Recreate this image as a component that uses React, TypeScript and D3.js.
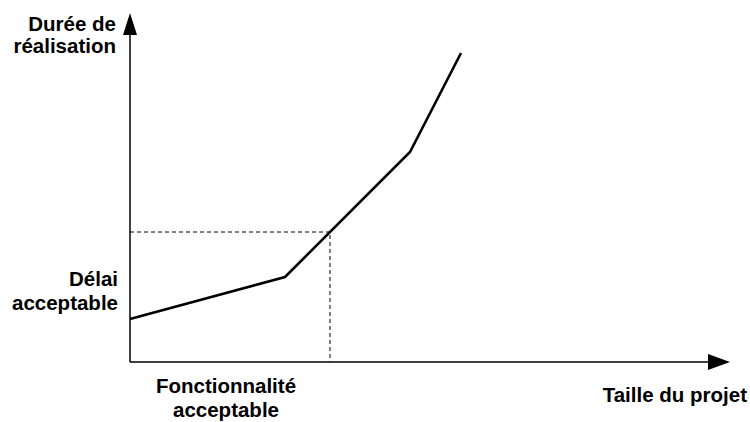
import React from "react";
import * as d3 from "d3";

const sizeValues = [0, 15.5, 28, 33.1];
const durationValues = [4.3, 8.5, 21, 30.9];
const acceptableSize = [20];
const acceptableDelay = [13];
const yAxisLabel = ["Durée de", "réalisation"];
const xAxisLabel = ["Taille du projet"];
const delayLabel = ["Délai", "acceptable"];
const featureLabel = ["Fonctionnalité", "acceptable"];

const W = 750;
const H = 422;
const FONT = "'Liberation Sans', Arial, Helvetica, sans-serif";

export default function App() {
  const x = d3.scaleLinear().domain([0, 60]).range([130, 730]);
  const y = d3.scaleLinear().domain([0, 35]).range([362, 12]);
  const pts = sizeValues.map((s, i) => [x(s), y(durationValues[i])] as [number, number]);
  const line = d3.line()(pts) || "";
  const ox = x(0);
  const oy = y(0);
  const ax = x(acceptableSize[0]);
  const ay = y(acceptableDelay[0]);
  const xEnd = x(60);
  const yEnd = y(35) + 1;
  const fs = 20.5;
  return (
    <div style={{ position: "fixed", left: 0, top: 0 }}>
      <svg width={W} height={H} style={{ display: "block", background: "#fff" }}>
        <path
          d={`M${ox},${ay}H${ax}V${oy}`}
          fill="none"
          stroke="#000"
          strokeWidth={1}
          strokeDasharray="4,3"
        />
        <line x1={ox} y1={oy} x2={xEnd - 20} y2={oy} stroke="#000" strokeWidth={1.5} />
        <line x1={ox} y1={oy} x2={ox} y2={yEnd + 20} stroke="#000" strokeWidth={1.5} />
        <path d={`M${xEnd},${oy}L${xEnd - 22},${oy - 8}L${xEnd - 22},${oy + 8}Z`} fill="#000" />
        <path d={`M${ox},${yEnd}L${ox - 7},${yEnd + 22}L${ox + 7},${yEnd + 22}Z`} fill="#000" />
        <path d={line} fill="none" stroke="#000" strokeWidth={2.6} strokeLinejoin="miter" />
        <g fontFamily={FONT} fontWeight="bold" fontSize={fs} fill="#000">
          <text x={116} y={31} textAnchor="end">{yAxisLabel[0]}</text>
          <text x={116} y={53} textAnchor="end">{yAxisLabel[1]}</text>
          <text x={118} y={286} textAnchor="end">{delayLabel[0]}</text>
          <text x={118} y={310} textAnchor="end">{delayLabel[1]}</text>
          <text x={226} y={393} textAnchor="middle">{featureLabel[0]}</text>
          <text x={226} y={417} textAnchor="middle">{featureLabel[1]}</text>
          <text x={747} y={402} textAnchor="end">{xAxisLabel[0]}</text>
        </g>
      </svg>
    </div>
  );
}
